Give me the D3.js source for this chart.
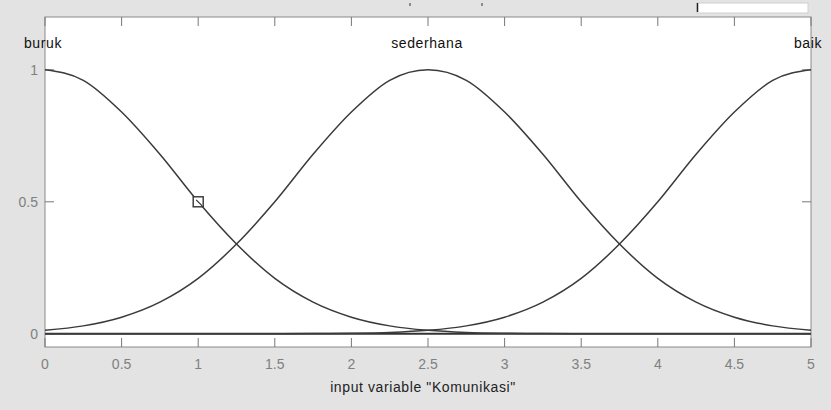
<!DOCTYPE html>
<html>
<head>
<meta charset="utf-8">
<script src="https://cdn.jsdelivr.net/npm/d3@7"></script>
<style>
    body { margin: 0; background: #e3e3e3; }
    svg { display: block; }
</style>
</head>
<body>
<svg id="chart" width="831" height="410"></svg>
<script>
/*
    Data
*/
const xValues = [0, 0.25, 0.5, 0.75, 1, 1.25, 1.5, 1.75, 2, 2.25, 2.5,
                 2.75, 3, 3.25, 3.5, 3.75, 4, 4.25, 4.5, 4.75, 5];
const buruk = [1, 0.96, 0.84, 0.68, 0.5, 0.34, 0.21, 0.12, 0.063, 0.03, 0.013,
               0.005, 0.002, 0.001, 0, 0, 0, 0, 0, 0, 0];
const sederhana = [0.013, 0.03, 0.063, 0.12, 0.21, 0.34, 0.5, 0.68, 0.84, 0.96, 1,
                   0.96, 0.84, 0.68, 0.5, 0.34, 0.21, 0.12, 0.063, 0.03, 0.013];
const baik = [0, 0, 0, 0, 0, 0, 0, 0.001, 0.002, 0.005, 0.013,
              0.03, 0.063, 0.12, 0.21, 0.34, 0.5, 0.68, 0.84, 0.96, 1];
const mfNames = ["buruk", "sederhana", "baik"];
const mfPeaks = [0, 2.5, 5];
const xTicks = [0, 0.5, 1, 1.5, 2, 2.5, 3, 3.5, 4, 4.5, 5];
const yTicks = [0, 0.5, 1];
const xLabel = 'input variable "Komunikasi"';
const cursorPoint = [1, 0.5];

/*
    Layout
*/
const svg = d3.select("#chart");
const plotLeft = 45, plotRight = 811, plotTop = 17, plotBottom = 347;
const x = d3.scaleLinear().domain([0, 5]).range([plotLeft, plotRight]);
const y = d3.scaleLinear().domain([-0.05, 1.2]).range([plotBottom, plotTop]);
const font = "'Liberation Sans', Arial, sans-serif";

// Top strip bits (window chrome)
svg.append("rect").attr("x", 697).attr("y", 3).attr("width", 111).attr("height", 10)
    .attr("fill", "#fff").attr("stroke", "#d0d0d0");
svg.append("line").attr("x1", 697.5).attr("x2", 697.5).attr("y1", 3).attr("y2", 12)
    .attr("stroke", "#222").attr("stroke-width", 1.5);
[410, 482].forEach(px => {
    svg.append("line").attr("x1", px).attr("x2", px).attr("y1", 3).attr("y2", 6)
        .attr("stroke", "#333");
});

// Plot area
svg.append("rect")
    .attr("x", plotLeft).attr("y", plotTop)
    .attr("width", plotRight - plotLeft).attr("height", plotBottom - plotTop)
    .attr("fill", "#fff").attr("stroke", "#8a8a8a");

// Ticks on all four sides
const tickLen = 9;
const g = svg.append("g").attr("stroke", "#777");
xTicks.forEach(t => {
    g.append("line").attr("x1", x(t)).attr("x2", x(t)).attr("y1", plotBottom).attr("y2", plotBottom - tickLen);
    g.append("line").attr("x1", x(t)).attr("x2", x(t)).attr("y1", plotTop).attr("y2", plotTop + tickLen);
});
yTicks.forEach(t => {
    g.append("line").attr("x1", plotLeft).attr("x2", plotLeft + tickLen).attr("y1", y(t)).attr("y2", y(t));
    g.append("line").attr("x1", plotRight).attr("x2", plotRight - tickLen).attr("y1", y(t)).attr("y2", y(t));
});

// Tick labels
svg.selectAll(".xt").data(xTicks).enter().append("text")
    .attr("x", d => x(d)).attr("y", 369)
    .attr("text-anchor", "middle")
    .style("font-family", font).style("font-size", "14px").attr("fill", "#808080")
    .text(d => d);
svg.selectAll(".yt").data(yTicks).enter().append("text")
    .attr("x", 38).attr("y", d => y(d) + 5)
    .attr("text-anchor", "end")
    .style("font-family", font).style("font-size", "14px").attr("fill", "#808080")
    .text(d => d);

// Axis label
svg.append("text")
    .attr("x", (plotLeft + plotRight) / 2 - 5).attr("y", 392)
    .attr("text-anchor", "middle")
    .style("font-family", font).style("font-size", "14px").style("letter-spacing", "0.6px")
    .attr("fill", "#222")
    .text(xLabel);

// Zero line
svg.append("line")
    .attr("x1", x(0)).attr("x2", x(5)).attr("y1", y(0)).attr("y2", y(0))
    .attr("stroke", "#333").attr("stroke-width", 2);

// Membership curves
const line = d3.line()
    .x((d, i) => x(xValues[i]))
    .y(d => y(d))
    .curve(d3.curveMonotoneX);
[buruk, sederhana, baik].forEach(series => {
    svg.append("path")
        .datum(series)
        .attr("d", line)
        .attr("fill", "none")
        .attr("stroke", "#3a3a3a")
        .attr("stroke-width", 1.5);
});

// Curve names above peaks
mfNames.forEach((name, i) => {
    svg.append("text")
        .attr("x", x(mfPeaks[i]) + (i === 2 ? -3 : (i === 0 ? -2 : -1)))
        .attr("y", 48)
        .attr("text-anchor", "middle")
        .style("font-family", font).style("font-size", "14px").style("letter-spacing", "0.6px")
        .attr("fill", "#111")
        .text(name);
});

// Cursor marker
svg.append("rect")
    .attr("x", x(cursorPoint[0]) - 5).attr("y", y(cursorPoint[1]) - 5)
    .attr("width", 10).attr("height", 10)
    .attr("fill", "#fff").attr("stroke", "#333").attr("stroke-width", 1.4);
svg.append("line")
    .attr("x1", x(cursorPoint[0]) - 2).attr("y1", y(cursorPoint[1]) - 2)
    .attr("x2", x(cursorPoint[0]) + 4).attr("y2", y(cursorPoint[1]) + 4)
    .attr("stroke", "#333").attr("stroke-width", 1.2);
</script>
</body>
</html>
